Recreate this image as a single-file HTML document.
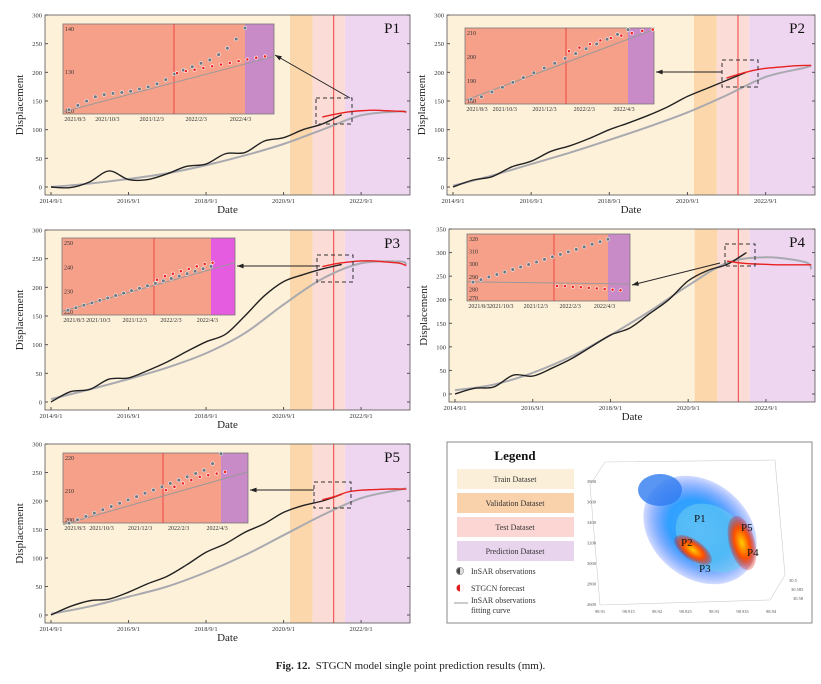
<!DOCTYPE html>
<html><head><meta charset="utf-8"><style>
body{margin:0;background:#fff;width:821px;height:684px;overflow:hidden;font-family:"Liberation Serif",serif}
svg{position:absolute;left:0;top:0}
.cap{position:absolute;left:0;width:821px;top:660px;text-align:center;font-size:11px;color:#222}
</style></head><body>
<svg id="fig" width="821" height="684"></svg>
<div class="cap"><b>Fig. 12.</b>&nbsp; STGCN model single point prediction results (mm).</div>
<script>
// ---- data ----
const obsMonths=[0,6,12,18,24,30,36,42,48,54,60,66,72,78,84,90];
const predMonths=[84,88,92,96,100,104,108,110];
const fitMonths=[0,12,24,36,48,60,72,84,96,108,110];
const p1Obs=[0,-1,9,28,13,13,23,36,40,58,60,80,86,100,110,126];
const p1Pred=[122,127,131,133,134,133,132,131];
const p1Fit=[0,6,14,24,38,55,75,100,125,132,130];
const p2Obs=[0,12,18,35,45,62,72,85,100,112,125,140,158,172,186,200];
const p2Pred=[190,197,203,207,209,211,212,212];
const p2Fit=[2,20,40,60,82,105,130,160,192,208,212];
const p3Obs=[0,18,22,40,42,55,70,88,105,118,150,185,210,222,232,240];
const p3Pred=[236,241,244,246,246,244,242,238];
const p3Fit=[5,22,40,60,85,120,170,215,242,245,240];
const p4Obs=[0,12,15,40,38,55,75,100,125,140,170,200,240,262,275,300];
const p4Pred=[282,278,276,275,274,274,274,274];
const p4Fit=[8,20,45,80,125,175,230,278,290,280,265];
const p5Obs=[0,15,25,28,40,55,68,88,110,125,145,160,180,192,200,212];
const p5Pred=[202,208,216,219,220,221,221,221];
const p5Fit=[2,15,32,50,75,105,140,175,205,220,222];
// inset values
const in1Obs=[121,122,123,124,124.5,124.8,125,125.3,125.8,126.3,127,128,129.3,130.2,131,131.8,132.6,133.8,135.3,137.4,140];
const in1Pred=[129.5,130,130.3,130.7,131.1,131.5,131.9,132.3,132.7,133.1,133.4];
const in2Obs=[182,183,185,187,189,191,193,195,197,199,201,203,205,207,209,211];
const in2Pred=[202,203.5,205,206.5,207.5,208.5,209.5,210.5,211];
const in3Obs=[222,223,224,225,226,227,228,229,230,231,232,233,234,235,236,237,238,239,240];
const in3Pred=[234.5,236,237,238,239,240,241,241.5];
const in4Obs=[285,287,289,291,293,295,297,299,301,303,305,307,309,311,313,315,317,319];
const in4Pred=[282,281.8,281.3,281,280.5,280,279.5,279,278.5];
const in5Obs=[200,201,202,203,204,205,206,207,208,209,210,211,212,213,214,215,216,218,221];
const in5Pred=[210,211,212,213,214,214.5,215,215.5];
const NS='http://www.w3.org/2000/svg';
const svg=document.getElementById('fig');
function el(tag,attrs,parent,text){const e=document.createElementNS(NS,tag);for(const k in attrs)e.setAttribute(k,attrs[k]);if(text!==undefined)e.textContent=text;(parent||svg).appendChild(e);return e;}
function smooth(xs,ys,fx,fy){const p=xs.map((m,i)=>[fx(m),fy(ys[i])]);let d='M'+p[0][0]+','+p[0][1];for(let i=0;i<p.length-1;i++){const p0=p[i-1]||p[i],p1=p[i],p2=p[i+1],p3=p[i+2]||p2;d+=' C'+(p1[0]+(p2[0]-p0[0])/6)+','+(p1[1]+(p2[1]-p0[1])/6)+' '+(p2[0]-(p3[0]-p1[0])/6)+','+(p2[1]-(p3[1]-p1[1])/6)+' '+p2[0]+','+p2[1];}return d;}
const panels=[
 {n:'P1',x0:45,x1:410,y0:15,y1:195,ymax:300,obs:p1Obs,pred:p1Pred,fit:p1Fit,
  inset:{x0:63,x1:274,y0:24,y1:114,lo:120,hi:140,ticks:[120,130,140],purple:245,red:174,pc:'#c98bc8',obs:in1Obs,pred:in1Pred},box:[316,98,352,124],arrow:[350,98,275,55]},
 {n:'P2',x0:447,x1:815,y0:15,y1:195,ymax:300,obs:p2Obs,pred:p2Pred,fit:p2Fit,
  inset:{x0:465,x1:654,y0:28,y1:104,lo:180,hi:210,ticks:[180,190,200,210],purple:628,red:566,pc:'#c98bc8',obs:in2Obs,pred:in2Pred},box:[722,60,758,87],arrow:[722,72,656,72]},
 {n:'P3',x0:45,x1:410,y0:230,y1:410,ymax:300,obs:p3Obs,pred:p3Pred,fit:p3Fit,
  inset:{x0:62,x1:235,y0:238,y1:315,lo:220,hi:250,ticks:[220,230,240,250],purple:211,red:154,pc:'#e65ce0',obs:in3Obs,pred:in3Pred},box:[317,255,353,282],arrow:[320,266,237,266]},
 {n:'P4',x0:449,x1:815,y0:229,y1:402,ymax:350,obs:p4Obs,pred:p4Pred,fit:p4Fit,
  inset:{x0:467,x1:630,y0:234,y1:301,lo:270,hi:320,ticks:[270,280,290,300,310,320],purple:608,red:554,pc:'#c98bc8',obs:in4Obs,pred:in4Pred},box:[725,244,755,266],arrow:[720,263,632,285]},
 {n:'P5',x0:45,x1:410,y0:444,y1:623,ymax:300,obs:p5Obs,pred:p5Pred,fit:p5Fit,
  inset:{x0:63,x1:248,y0:453,y1:523,lo:200,hi:220,ticks:[200,210,220],purple:221,red:163,pc:'#c98bc8',obs:in5Obs,pred:in5Pred},box:[314,482,351,508],arrow:[314,490,250,490]}
];
const xLabels=['2014/9/1','2016/9/1','2018/9/1','2020/9/1','2022/9/1'];
const inLabels=['2021/8/3','2021/10/3','2021/12/3','2022/2/3','2022/4/3'];
panels.forEach((P,pi)=>{
 const g=el('g',{});
 
 
 const W=P.x1-P.x0;
 const fx=m=>P.x0+6+m*W/113;
 const fy=v=>P.y1-8-(v/P.ymax)*(P.y1-8-P.y0);
 const mv=74,mt=81,mr=87.5,mp=91;
 el('rect',{x:P.x0,y:P.y0,width:fx(mv)-P.x0,height:P.y1-P.y0,fill:'#fdf1d9'},g);
 el('rect',{x:fx(mv),y:P.y0,width:fx(mt)-fx(mv),height:P.y1-P.y0,fill:'#fbd7ab'},g);
 el('rect',{x:fx(mt),y:P.y0,width:fx(mp)-fx(mt),height:P.y1-P.y0,fill:'#fcdcd6'},g);
 el('rect',{x:fx(mp),y:P.y0,width:P.x1-fx(mp),height:P.y1-P.y0,fill:'#eed6f1'},g);
 el('line',{x1:fx(mr),x2:fx(mr),y1:P.y0,y2:P.y1,stroke:'#f25a5a','stroke-width':1.2},g);
 el('rect',{x:P.x0,y:P.y0,width:W,height:P.y1-P.y0,fill:'none',stroke:'#555','stroke-width':0.8},g);
 for(let v=0;v<=P.ymax;v+=50){const y=fy(v);el('line',{x1:P.x0,x2:P.x0+3,y1:y,y2:y,stroke:'#555'},g);el('line',{x1:P.x1,x2:P.x1-3,y1:y,y2:y,stroke:'#555'},g);el('text',{x:P.x0-3,y:y+2.5,'font-size':6.5,'text-anchor':'end',fill:'#333'},g,v);}
 xLabels.forEach((t,i)=>{const x=fx(i*24);el('line',{x1:x,x2:x,y1:P.y1,y2:P.y1-3,stroke:'#555'},g);el('text',{x:x,y:P.y1+8,'font-size':6.5,'text-anchor':'middle',fill:'#333'},g,t);});
 el('text',{x:P.x0+W/2,y:P.y1+18,'font-size':11,'text-anchor':'middle',fill:'#222'},g,'Date');
 el('text',{x:0,y:0,'font-size':11,'text-anchor':'middle',fill:'#222',transform:'translate('+(P.x0-22)+','+((P.y0+P.y1)/2)+') rotate(-90)'},g,'Displacement');
 el('text',{x:P.x1-10,y:P.y0+18,'font-size':15,'text-anchor':'end',fill:'#111'},g,P.n);
 const fit=el('path',{d:smooth(fitMonths,P.fit,fx,fy),fill:'none',stroke:'#a9a9b0','stroke-width':2},g);
 
 
 const ob=el('path',{d:smooth(obsMonths,P.obs,fx,fy),fill:'none',stroke:'#222','stroke-width':1.4},g);
 
 
 const pr=el('path',{d:smooth(predMonths,P.pred,fx,fy),fill:'none',stroke:'#e82020','stroke-width':1.4},g);
 
 
 const b=P.box;
 el('rect',{x:b[0],y:b[1],width:b[2]-b[0],height:b[3]-b[1],fill:'none',stroke:'#333','stroke-dasharray':'4,3','stroke-width':1},g);
 const a=P.arrow;
 el('line',{x1:a[0],y1:a[1],x2:a[2],y2:a[3],stroke:'#222','stroke-width':1},g);
 const ang=Math.atan2(a[3]-a[1],a[2]-a[0]);
 const h=(d)=>[a[2]-7*Math.cos(ang+d),a[3]-7*Math.sin(ang+d)];
 const h1=h(0.35),h2=h(-0.35);
 el('polygon',{points:a[2]+','+a[3]+' '+h1.join(',')+' '+h2.join(','),fill:'#222'},g);
 const I=P.inset;
 const ig=el('g',{},g);
 
 
 el('rect',{x:I.x0,y:I.y0,width:I.purple-I.x0,height:I.y1-I.y0,fill:'#f7a089'},ig);
 el('rect',{x:I.purple,y:I.y0,width:I.x1-I.purple,height:I.y1-I.y0,fill:I.pc},ig);
 el('rect',{x:I.x0,y:I.y0,width:I.x1-I.x0,height:I.y1-I.y0,fill:'none',stroke:'#777','stroke-width':0.8},ig);
 el('line',{x1:I.red,x2:I.red,y1:I.y0,y2:I.y1,stroke:'#e83030','stroke-width':0.8},ig);
 const iy=v=>I.y1-(v-I.lo)/(I.hi-I.lo)*(I.y1-I.y0-4);
 I.ticks.forEach(v=>el('text',{x:I.x0+2,y:iy(v)+(v==I.lo?-1:3),'font-size':6,fill:'#333'},ig,v));
 inLabels.forEach((t,i)=>el('text',{x:I.x0+(i==0?12:0)+i*(I.purple-I.x0)/4.1,y:I.y1+7,'font-size':6,'text-anchor':'middle',fill:'#333'},ig,t));
 const n=I.obs.length;
 const ox=i=>I.x0+6+i*(I.purple-I.x0-6)/(n-1);
 const step=(I.purple-I.x0-6)/(n-1);
 el('line',{x1:I.x0,y1:iy(I.obs[0]-0.5*(pi==3?-0.5:1)),x2:I.x1,y2:iy(pi==3?283.5:I.pred[I.pred.length-1]),stroke:'#999','stroke-width':1},ig);
 I.obs.forEach((v,i)=>{const c=el('circle',{cx:ox(i),cy:iy(v),r:1.8,fill:'#6b7580',stroke:'#eee','stroke-width':0.6},ig);});
 I.pred.forEach((v,i)=>{const c=el('circle',{cx:I.red+3+i*step,cy:iy(v),r:1.6,fill:'#f02020',stroke:'#fff','stroke-width':0.6},ig);});
});
// ---- legend panel ----
const L=el('g',{});


el('rect',{x:447,y:442,width:365,height:181,fill:'#fff',stroke:'#888','stroke-width':1},L);
el('text',{x:515,y:460,'font-size':13,'font-weight':'bold','text-anchor':'middle',fill:'#111'},L,'Legend');
const legItems=[['Train Dataset','#fcefd9'],['Validation Dataset','#f9d1aa'],['Test Dataset','#fbd6d3'],['Prediction Dataset','#e9d4ee']];
legItems.forEach((it,i)=>{const y=469+i*24;const r=el('rect',{x:457,y:y,width:117,height:20,fill:it[1]},L);el('text',{x:515,y:y+13,'font-size':8,'text-anchor':'middle',fill:'#333'},L,it[0]);});
el('circle',{cx:460,cy:571,r:3.5,fill:'#444',stroke:'#888'},L);el('path',{d:'M460,567.5 A3.5,3.5 0 0 1 460,574.5 Z',fill:'#ddd'},L);
el('text',{x:471,y:574,'font-size':8,fill:'#333'},L,'InSAR observations');
el('circle',{cx:460,cy:588,r:3.5,fill:'#e02020'},L);el('path',{d:'M460,584.5 A3.5,3.5 0 0 1 460,591.5 Z',fill:'#fff'},L);
el('text',{x:471,y:591,'font-size':8,fill:'#333'},L,'STGCN forecast');
el('line',{x1:454,x2:468,y1:603,y2:603,stroke:'#bbb','stroke-width':1.5},L);
el('text',{x:471,y:603,'font-size':8,fill:'#333'},L,'InSAR observations');
el('text',{x:471,y:613,'font-size':8,fill:'#333'},L,'fitting curve');
const S=el('g',{},L);


const defs=el('defs',{},S);
[['gb','#1e50ff','#4aa8ff'],['gr','#d00000','#ffcc00']].forEach(d=>{const rg=el('radialGradient',{id:d[0]},defs);el('stop',{offset:'0%','stop-color':d[2]},rg);el('stop',{offset:'55%','stop-color':d[0]=='gb'?'#2fa0ff':'#ff5000'},rg);el('stop',{offset:'100%','stop-color':d[1],'stop-opacity':0.2},rg);});
['M600,605 L770,600','M600,605 L590,485','M590,485 L605,462 L775,460','M770,600 L785,575','M785,575 L775,460'].forEach(d=>el('path',{d:d,fill:'none',stroke:'#ccc','stroke-width':0.6},S));
[2600,2800,3000,3200,3400,3600,3800].forEach((v,i)=>el('text',{x:596,y:606-i*20.5,'font-size':4.5,'text-anchor':'end',fill:'#555'},S,v));
['98.91','98.915','98.92','98.925','98.93','98.935','98.94'].forEach((v,i)=>el('text',{x:600+i*28.5,y:613,'font-size':4.5,'text-anchor':'middle',fill:'#555'},S,v));
['30.5','30.585','30.58'].forEach((v,i)=>el('text',{x:789+i*2,y:582+i*9,'font-size':4.5,fill:'#555'},S,v));
el('ellipse',{cx:700,cy:530,rx:62,ry:48,fill:'url(#gb)',transform:'rotate(40 700 530)'},S);
el('ellipse',{cx:660,cy:490,rx:22,ry:16,fill:'#2f7cf0',opacity:0.8},S);
el('ellipse',{cx:712,cy:538,rx:40,ry:30,fill:'#6ad0f0',opacity:0.55,transform:'rotate(40 712 538)'},S);
el('ellipse',{cx:693,cy:550,rx:22,ry:10,fill:'url(#gr)',transform:'rotate(35 693 550)'},S);
el('ellipse',{cx:742,cy:543,rx:13,ry:28,fill:'url(#gr)',transform:'rotate(-15 742 543)'},S);
[['P1',694,522],['P2',681,546],['P3',699,572],['P5',741,531],['P4',747,556]].forEach(p=>el('text',{x:p[1],y:p[2],'font-size':11,fill:'#111'},S,p[0]));
</script>
</body></html>
